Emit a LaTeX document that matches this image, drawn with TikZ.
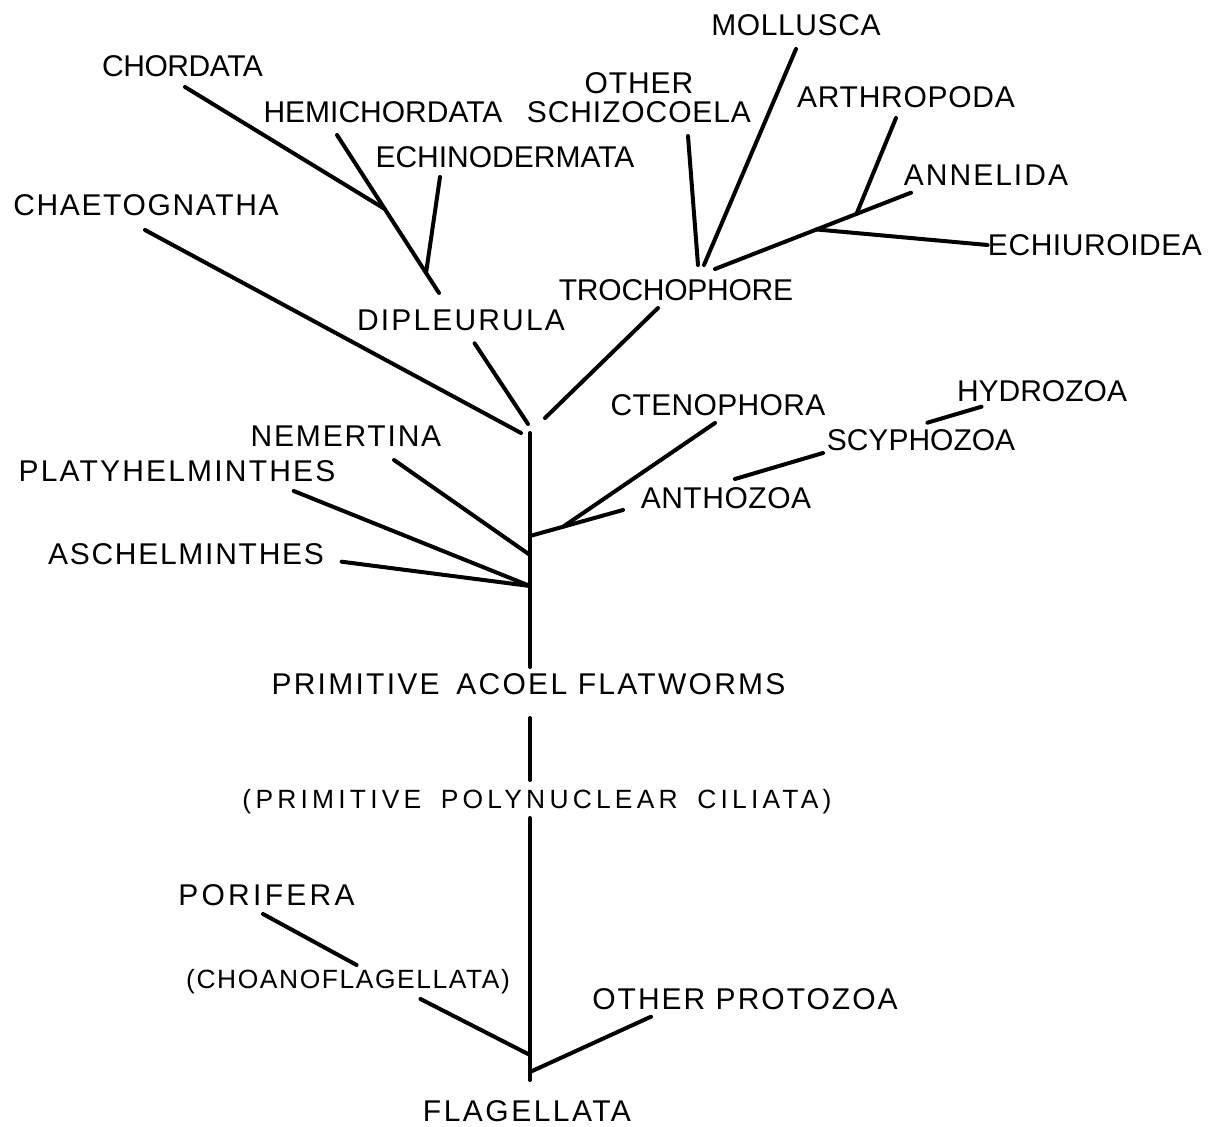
\documentclass[tikz,border=0pt]{standalone}
\usepackage{fontspec}
\setmainfont{Liberation Sans}
\usetikzlibrary{calc}
\newcommand{\lblfont}{\fontsize{15}{14.5}\selectfont}
\newcommand{\smlfont}{\fontsize{13.2}{15}\selectfont}

\begin{document}
\begin{tikzpicture}[x = 0.5pt, y = -0.5pt,
	lbl/.style = {font = \lblfont\addfontfeature{LetterSpace=#1}, text height = 10.7pt, text depth = 0pt, inner sep = 0pt},
	lbl/.default = 0,
	sml/.style = {font = \smlfont\addfontfeature{LetterSpace=#1}, text height = 9.4pt, text depth = 0pt, inner sep = 0pt},
	br/.style = {line width = 2pt, line cap = round}]
	\useasboundingbox (0,0) rectangle (1212,1127);
	\node [lbl = -1.4] (chordata) at (182.5,65.5) {CHORDATA};
	\node [lbl] (hemi) at (383,112) {HEMICHORDATA};
	\node [font = \lblfont\addfontfeature{LetterSpace=3}, align = center, inner sep = 0pt] (schizo) at (639,97.5) {OTHER\\SCHIZOCOELA};
	\node [lbl] (echino) at (505,157) {ECHINODERMATA};
	\node [lbl = 5.5] (chaeto) at (146,205) {CHAETOGNATHA};
	\node [lbl = 2] (mollusca) at (796,25) {MOLLUSCA};
	\node [lbl = 2.4] (arthro) at (906,97) {ARTHROPODA};
	\node [lbl = 6.7] (annelida) at (986,175) {ANNELIDA};
	\node [lbl = 1.9] (echiuro) at (1095,245) {ECHIUROIDEA};
	\node [lbl = -0.8] (trocho) at (676,290) {TROCHOPHORE};
	\node [lbl = 7.2] (dipleur) at (461,320) {DIPLEURULA};
	\node [lbl = 1.1] (cteno) at (718,405) {CTENOPHORA};
	\node [lbl] (hydro) at (1042,391) {HYDROZOA};
	\node [lbl] (scypho) at (921,440) {SCYPHOZOA};
	\node [lbl = 6] (nemert) at (346,436) {NEMERTINA};
	\node [lbl = 7.3] (platy) at (177,470.5) {PLATYHELMINTHES};
	\node [lbl = 1.8] (antho) at (726,498) {ANTHOZOA};
	\node [lbl = 5.8] (aschel) at (186,554) {ASCHELMINTHES};
	\node [lbl = 7.6] (acoel) at (528.5,684) {PRIMITIVE\hspace{3pt} ACOEL FLATWORMS};
	\node [sml = 16] (ciliata) at (537,799) {(PRIMITIVE\hspace{4pt} POLYNUCLEAR\hspace{4pt} CILIATA)};
	\node [lbl = 11] (porifera) at (266.5,895) {PORIFERA};
	\node [sml = 6] (choano) at (348,979) {(CHOANOFLAGELLATA)};
	\node [lbl = 6.7] (protozoa) at (745,999) {OTHER PROTOZOA};
	\node [lbl = 8.3] (flag) at (527,1111) {FLAGELLATA};

	\coordinate (top) at (530,433);
	\coordinate (jct) at (530,536);
	\coordinate (jnem) at (530,555);
	\coordinate (jplat) at (530,586);
	\coordinate (jcho) at (530,1055);
	\coordinate (jpro) at (530,1072);
	\coordinate (h1) at ($(hemi)+(-46,23)$);
	\coordinate (h2) at ($(dipleur)+(-22,-27)$);
	\coordinate (a1) at ($(annelida)+(-75,17.7)$);
	\coordinate (a2) at ($(trocho)+(39,-21)$);
	\coordinate (n1) at ($(antho)+(-103,12)$);

	\draw [br] (top) -- ($(acoel)+(1.5,-17)$);
	\draw [br] ($(acoel)+(1.5,34)$) -- ($(ciliata)+(-7,-19)$);
	\draw [br] ($(ciliata)+(-7,19)$) -- ($(flag)+(3,-31)$);

	\draw [br] (h1) -- (h2);
	\draw [br] ($(chordata)+(2.5,21.5)$) -- ($(h1)!0.468!(h2)$);
	\draw [br] ($(echino)+(-65,20)$) -- ($(h1)!0.873!(h2)$);
	\draw [br] ($(chaeto)+(-1,25)$) -- ($(top)+(-9,0)$);
	\draw [br] ($(dipleur)+(13.6,23.3)$) -- ($(top)+(-2,-9)$);
	\draw [br] ($(trocho)+(-18,18)$) -- ($(top)+(15,-15)$);

	\draw [br] ($(mollusca)+(0,24)$) -- ($(trocho)+(28,-25)$);
	\draw [br] ($(schizo)+(49,38.5)$) -- ($(trocho)+(22,-25)$);
	\draw [br] (a1) -- (a2);
	\draw [br] ($(arthro)+(-10,21)$) -- ($(a1)!0.278!(a2)$);
	\draw [br] ($(a1)!0.482!(a2)$) -- (echiuro.west);

	\draw [br] (n1) -- (jct);
	\draw [br] ($(cteno)+(-3,18)$) -- ($(n1)!0.645!(jct)$);
	\draw [br] ($(scypho)+(-98,13)$) -- ($(antho)+(9,-19)$);
	\draw [br] ($(hydro)+(-60.5,15.7)$) -- ($(scypho)+(6.4,-17.3)$);
	\draw [br] ($(nemert)+(48,24)$) -- (jnem);
	\draw [br] ($(platy)+(116.7,20.5)$) -- (jplat);
	\draw [br] ($(aschel)+(155.6,7.7)$) -- (jplat);

	\draw [br] ($(porifera)+(-3.5,19)$) -- ($(choano)+(8.6,-14)$);
	\draw [br] ($(choano)+(72.4,20)$) -- (jcho);
	\draw [br] ($(protozoa)+(-94,17.7)$) -- (jpro);
\end{tikzpicture}
\end{document}
